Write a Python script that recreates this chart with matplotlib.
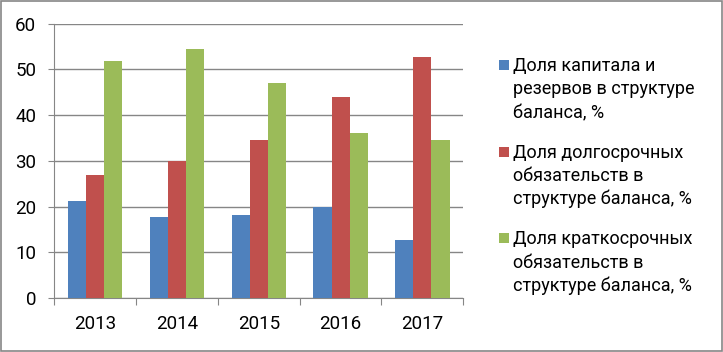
import matplotlib
matplotlib.use("Agg")

import matplotlib.pyplot as plt
from matplotlib.patches import Rectangle
import numpy as np

plt.rcParams["font.family"] = ["Roboto", "DejaVu Sans"]

years = ["2013", "2014", "2015", "2016", "2017"]
capital = [21.2, 17.6, 18.2, 19.9, 12.7]
long_term = [26.9, 30.0, 34.5, 43.9, 52.7]
short_term = [51.8, 54.4, 47.1, 36.1, 34.5]
labels = [
    "Доля капитала и\nрезервов в структуре\nбаланса, %",
    "Доля долгосрочных\nобязательств в\nструктуре баланса, %",
    "Доля краткосрочных\nобязательств в\nструктуре баланса, %",
]
colors = ["#4F81BD", "#C0504D", "#9BBB59"]

W, H = 723, 352
fig = plt.figure(figsize=(W / 100, H / 100), dpi=100)
ax = fig.add_axes([0.0751, 0.1534, 0.5657, 0.7798])

x = np.arange(len(years))
width = 1 / 4.5
bars = []
for i, vals in enumerate([capital, long_term, short_term]):
    b = ax.bar(x + (i - 1) * width, vals, width, color=colors[i], zorder=3)
    bars.append(b)

ax.set_ylim(0, 60)
ax.set_xlim(-0.5, len(years) - 0.5)
ax.set_yticks(range(0, 61, 10))
ax.yaxis.grid(True, color="#868686", linewidth=1.0, zorder=0)
ax.tick_params(axis="y", length=4, color="#868686", labelsize=13.5, pad=9)

ax.set_xticks(np.arange(-0.5, len(years), 1))
ax.set_xticklabels([])
ax.set_xticks(x, minor=True)
ax.set_xticklabels(years, minor=True)
ax.tick_params(axis="x", which="major", length=5, color="#868686")
ax.tick_params(axis="x", which="minor", length=0, labelsize=13.5, pad=12)

for side in ["top", "right"]:
    ax.spines[side].set_visible(False)
for side in ["left", "bottom"]:
    ax.spines[side].set_color("#868686")

# legend drawn by hand so the square sits on the first line
line_h = 23.5
entry_h = 86.5
for i, (b, lab) in enumerate(zip(bars, labels)):
    base = 71 + i * entry_h
    fig.patches.append(Rectangle((499 / W, 1 - (base - 1) / H), 10 / W, 10 / H,
                                 transform=fig.transFigure,
                                 facecolor=b.patches[0].get_facecolor(),
                                 edgecolor="none"))
    for j, line in enumerate(lab.split("\n")):
        fig.text(513 / W, 1 - (base + j * line_h) / H, line,
                 fontsize=13, ha="left", va="baseline")

fig.patches.append(Rectangle((0.001, 0.002), 0.997, 0.995, transform=fig.transFigure,
                             fill=False, edgecolor="#868686", linewidth=1.2))

fig.savefig("out.png", dpi=100)
